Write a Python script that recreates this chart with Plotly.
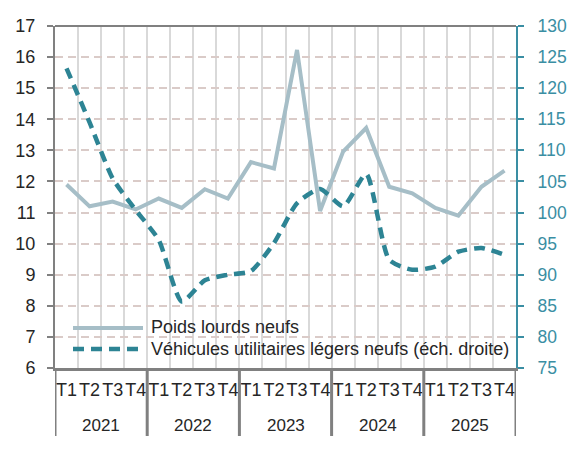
import plotly.graph_objects as go

years = ["2021", "2022", "2023", "2024", "2025"]
quarters = ["T1", "T2", "T3", "T4"]

poids_lourds = [11.9, 11.2, 11.35, 11.1, 11.45, 11.15, 11.75, 11.45,
                12.62, 12.42, 16.23, 11.05, 12.96, 13.72, 11.83, 11.62,
                11.15, 10.9, 11.83, 12.35]
vul = [123.2, 114.5, 105.5, 100.4, 95.6, 85.7, 89.1, 90.0,
       90.6, 95.1, 101.5, 103.8, 101.0, 106.2, 92.4, 90.8,
       91.3, 93.7, 94.3, 93.2]

name_pl = "Poids lourds neufs"
name_vul = "Véhicules utilitaires légers neufs (éch. droite)"

nq = len(quarters)
q_labels = [q for _ in years for q in quarters]
xi = list(range(len(q_labels)))

GREY_LINE = "#a6bec7"
TEAL = "#2d8494"
TEAL_TXT = "#3a8ea3"
AXIS_GREY = "#808080"
TXT = "#262626"
FONT = "Liberation Sans, Arial, sans-serif"

fig = go.Figure()
fig.add_trace(go.Scatter(x=xi, y=poids_lourds, name=name_pl,
                         mode="lines", line=dict(color=GREY_LINE, width=4),
                         showlegend=False, yaxis="y"))
fig.add_trace(go.Scatter(x=xi, y=vul, name=name_vul,
                         mode="lines", line=dict(color=TEAL, width=4.5, dash="11px,7px",
                                                 shape="spline", smoothing=0.6),
                         showlegend=False, yaxis="y2"))

OFF = 8  # page body margin
W, H = 559, 439
L, T = 47, 18
pw, ph = 461, 342
R = W - L - pw
B = H - T - ph

def xp(sx):
    return (sx - OFF - L) / pw

def yp(sy):
    return (T + ph - (sy - OFF)) / ph

shapes = [
    dict(type="line", xref="paper", yref="paper", x0=0, x1=1, y0=1, y1=1,
         line=dict(color=AXIS_GREY, width=2)),
    dict(type="line", xref="paper", yref="paper", x0=xp(73), x1=xp(143),
         y0=yp(328), y1=yp(328), line=dict(color=GREY_LINE, width=4)),
    dict(type="line", xref="paper", yref="paper", x0=xp(73), x1=xp(143),
         y0=yp(349), y1=yp(349), line=dict(color=TEAL, width=4.5, dash="11px,7px")),
]
# year dividers
for k in range(len(years) + 1):
    shapes.append(dict(type="line", xref="x", yref="paper",
                       x0=k * nq - 0.5, x1=k * nq - 0.5, y0=0, y1=yp(436),
                       line=dict(color=AXIS_GREY, width=3)))

annotations = [
    dict(xref="paper", yref="paper", x=xp(149), y=yp(327), text=name_pl,
         showarrow=False, xanchor="left", yanchor="middle",
         font=dict(family=FONT, size=18, color=TXT)),
    dict(xref="paper", yref="paper", x=xp(149), y=yp(349), text=name_vul,
         showarrow=False, xanchor="left", yanchor="middle",
         font=dict(family=FONT, size=18, color=TXT)),
]
for k, yr in enumerate(years):
    annotations.append(dict(xref="x", yref="paper", x=k * nq + (nq - 1) / 2,
                            y=yp(425), text=yr, showarrow=False,
                            xanchor="center", yanchor="middle",
                            font=dict(family=FONT, size=17, color=TXT)))

fig.update_layout(
    width=W, height=H,
    margin=dict(l=L, r=R, t=T, b=B, autoexpand=False),
    paper_bgcolor="white", plot_bgcolor="white",
    font=dict(family=FONT, size=18, color=TXT),
    showlegend=False,
    xaxis=dict(range=[-0.5, len(xi) - 0.5], tickmode="array", tickvals=xi,
               ticktext=q_labels, showgrid=False, showline=True,
               linecolor=AXIS_GREY, linewidth=3, ticks="", tickangle=0,
               automargin=False, zeroline=False, ticklabelstandoff=3,
               minor=dict(tick0=-0.5, dtick=1, showgrid=True,
                          gridcolor="#d9d9d9", gridwidth=1.5, ticks=""),
               tickfont=dict(family=FONT, size=18, color=TXT)),
    yaxis=dict(range=[6, 17], dtick=1, tick0=6, showgrid=True, automargin=False,
               gridcolor="#dacbc8", griddash="8px,5px", gridwidth=1.5,
               showline=True, linecolor=AXIS_GREY, linewidth=2,
               ticks="outside", ticklen=6, tickwidth=2, tickcolor=AXIS_GREY,
               zeroline=False, ticklabelstandoff=8,
               tickfont=dict(family=FONT, size=18, color=TXT)),
    yaxis2=dict(range=[75, 130], dtick=5, tick0=75, overlaying="y", side="right",
                automargin=False,
                showgrid=False, showline=True, linecolor=TEAL_TXT, linewidth=2,
                ticks="outside", ticklen=6, tickwidth=2, tickcolor=TEAL_TXT,
                zeroline=False, ticklabelstandoff=10,
                tickfont=dict(family=FONT, size=17.5, color=TEAL_TXT)),
    yaxis3=dict(range=[6, 17], dtick=1, tick0=6, overlaying="y", side="left",
                automargin=False,
                showgrid=False, showline=False, ticks="inside", ticklen=6,
                tickwidth=2, tickcolor=AXIS_GREY, showticklabels=False, zeroline=False),
    yaxis4=dict(range=[75, 130], dtick=5, tick0=75, overlaying="y", side="right",
                automargin=False,
                showgrid=False, showline=False, ticks="inside", ticklen=6,
                tickwidth=2, tickcolor=TEAL_TXT, showticklabels=False, zeroline=False),
    shapes=shapes,
    annotations=annotations,
)

fig.write_html("out.html")
